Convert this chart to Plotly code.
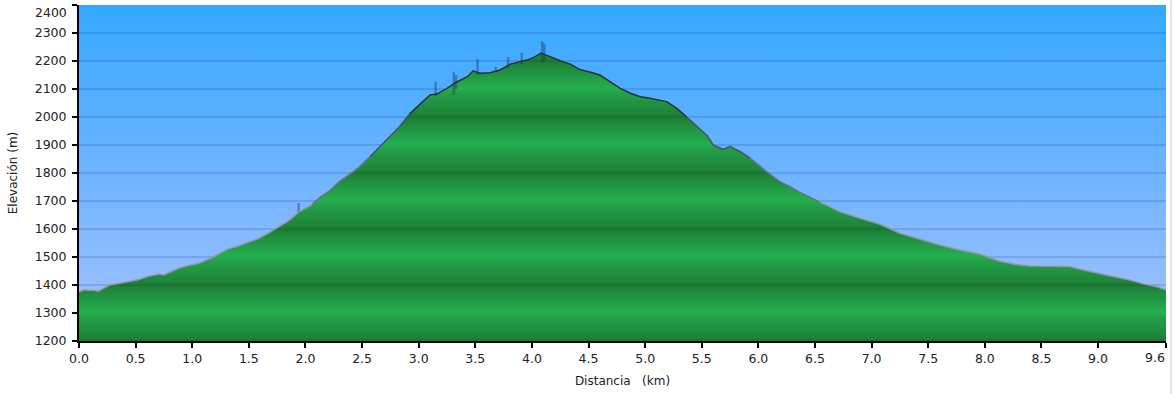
import plotly.graph_objects as go

# ---- data ----
dist_km = [0.00, 0.04, 0.08, 0.13, 0.17, 0.22, 0.27, 0.35, 0.44, 0.53, 0.62, 0.71, 0.75, 0.80,
           0.88, 0.97, 1.06, 1.18, 1.25, 1.32, 1.40, 1.47, 1.59, 1.68, 1.77, 1.86, 1.94, 2.06,
           2.13, 2.21, 2.30, 2.39, 2.48, 2.57, 2.66, 2.75, 2.83, 2.92, 3.01, 3.10, 3.16, 3.25,
           3.34, 3.43, 3.48, 3.54, 3.63, 3.72, 3.81, 3.90, 3.98, 4.04, 4.08, 4.13, 4.16, 4.25,
           4.34, 4.42, 4.51, 4.60, 4.69, 4.78, 4.87, 4.95, 5.04, 5.13, 5.19, 5.28, 5.37, 5.46,
           5.55, 5.60, 5.69, 5.75, 5.84, 5.93, 6.01, 6.10, 6.19, 6.28, 6.37, 6.54, 6.72, 6.90,
           7.07, 7.25, 7.43, 7.60, 7.78, 7.96, 8.13, 8.31, 8.40, 8.58, 8.75, 8.84, 8.97, 9.11,
           9.26, 9.40, 9.52, 9.60]
elev_m = [1375, 1383, 1381, 1381, 1378, 1390, 1400, 1405, 1412, 1420, 1432, 1439, 1436, 1446,
          1460, 1470, 1478, 1499, 1515, 1529, 1538, 1549, 1567, 1587, 1611, 1632, 1660, 1688,
          1714, 1735, 1769, 1795, 1823, 1858, 1894, 1930, 1965, 2011, 2046, 2079, 2082, 2102,
          2126, 2144, 2165, 2156, 2158, 2168, 2189, 2198, 2206, 2218, 2228, 2220, 2215, 2201,
          2189, 2170, 2161, 2150, 2126, 2102, 2085, 2073, 2067, 2061, 2055, 2031, 1999, 1965,
          1932, 1900, 1884, 1894, 1876, 1852, 1825, 1796, 1769, 1751, 1730, 1697, 1662, 1638,
          1618, 1585, 1563, 1543, 1525, 1510, 1485, 1471, 1468, 1468, 1466, 1456, 1444, 1432,
          1420, 1404, 1394, 1382]

# noisy spikes in the raw track
spike_x = [1.94, 3.15, 3.31, 3.33, 3.52, 3.68, 3.79, 3.91, 4.09, 4.11]
spike_top = [1693, 2125, 2161, 2150, 2207, 2179, 2214, 2229, 2271, 2262]
spike_bottom = [1660, 2075, 2079, 2100, 2150, 2160, 2175, 2190, 2193, 2200]

x_tickvals = [0.0, 0.5, 1.0, 1.5, 2.0, 2.5, 3.0, 3.5, 4.0, 4.5, 5.0, 5.5, 6.0, 6.5, 7.0, 7.5,
              8.0, 8.5, 9.0, 9.6]
x_ticktext = ["0.0", "0.5", "1.0", "1.5", "2.0", "2.5", "3.0", "3.5", "4.0", "4.5", "5.0",
              "5.5", "6.0", "6.5", "7.0", "7.5", "8.0", "8.5", "9.0", "9.6"]
y_tickvals = [1200, 1300, 1400, 1500, 1600, 1700, 1800, 1900, 2000, 2100, 2200, 2300, 2400]
y_ticktext = ["1200", "1300", "1400", "1500", "1600", "1700", "1800", "1900", "2000", "2100",
              "2200", "2300", "2400"]

X_MAX = 9.6
Y_MIN, Y_MAX = 1200, 2400

fig = go.Figure()

# sky background gradient
fig.add_trace(go.Scatter(
    x=[0, X_MAX, X_MAX, 0, 0], y=[Y_MIN, Y_MIN, Y_MAX, Y_MAX, Y_MIN],
    mode="none", fill="toself",
    fillgradient=dict(type="vertical", start=Y_MIN, stop=Y_MAX,
                      colorscale=[[0, "rgb(168,194,255)"], [0.5, "rgb(110,180,255)"],
                                  [1, "rgb(52,168,255)"]]),
    hoverinfo="skip", showlegend=False))

# gridlines (drawn over sky, under terrain)
gx, gy = [], []
for v in y_tickvals[1:-1]:
    gx += [0, X_MAX, None]
    gy += [v, v, None]
fig.add_trace(go.Scatter(x=gx, y=gy, mode="lines",
                         line=dict(color="rgba(0,30,80,0.18)", width=1.5),
                         hoverinfo="skip", showlegend=False))

# terrain fill with banded green gradient
line_dark = "rgb(25,112,48)"
mid_dark = "rgb(29,130,57)"
bright = "rgb(35,170,76)"
stops = []
n = (Y_MAX - Y_MIN) // 100
for k in range(n + 1):
    f = k / n
    if k % 2 == 0:
        if f - 0.006 >= 0:
            stops.append([f - 0.006, mid_dark])
        stops.append([f, line_dark])
        if f + 0.006 <= 1:
            stops.append([f + 0.006, mid_dark])
    else:
        stops.append([f - 0.012, "rgb(34,160,72)"])
        stops.append([f, "rgb(37,176,80)"])
        stops.append([f + 0.012, bright])
fig.add_trace(go.Scatter(
    x=dist_km, y=elev_m, mode="none", fill="tozeroy",
    fillgradient=dict(type="vertical", start=Y_MIN, stop=Y_MAX, colorscale=stops),
    hoverinfo="skip", showlegend=False))

# spikes
sx, sy = [], []
for xv, t, b in zip(spike_x, spike_top, spike_bottom):
    sx += [xv, xv, None]
    sy += [b, t, None]
fig.add_trace(go.Scatter(x=sx, y=sy, mode="lines",
                         line=dict(color="rgba(25,50,90,0.4)", width=2.5),
                         hoverinfo="skip", showlegend=False))


# outline, colour darkening with elevation
def outline_color(h):
    if h >= 2000:
        return "#2b2f38"
    if h >= 1850:
        return "#4b505e"
    if h >= 1700:
        return "#6d717e"
    return "#9597a3"


seg_x, seg_y, cur = [dist_km[0]], [elev_m[0]], None
for i in range(1, len(dist_km)):
    c = outline_color((elev_m[i - 1] + elev_m[i]) / 2)
    if cur is not None and c != cur:
        fig.add_trace(go.Scatter(x=seg_x, y=seg_y, mode="lines",
                                 line=dict(color=cur, width=1.5),
                                 hoverinfo="skip", showlegend=False))
        seg_x, seg_y = [dist_km[i - 1]], [elev_m[i - 1]]
    cur = c
    seg_x.append(dist_km[i])
    seg_y.append(elev_m[i])
fig.add_trace(go.Scatter(x=seg_x, y=seg_y, mode="lines",
                         line=dict(color=cur, width=1.5),
                         hoverinfo="skip", showlegend=False))

# edge labels are nudged inward (as in the reference) so they stay fully visible
x_text = x_ticktext[:-1] + [""]
y_text = y_ticktext[:-1] + [""]

font_family = "DejaVu Sans, Verdana, sans-serif"
tick_font = dict(family=font_family, size=12.5, color="#222222")
fig.update_layout(
    width=1174, height=394,
    margin=dict(l=79, r=8, t=5, b=53),
    paper_bgcolor="white", plot_bgcolor="white",
    font=dict(family=font_family, size=12, color="#222222"),
    xaxis=dict(range=[0, X_MAX], tickvals=x_tickvals, ticktext=x_text,
               showgrid=False, zeroline=False, showline=True, linecolor="black",
               linewidth=2, ticks="outside", ticklen=5, tickwidth=2, tickcolor="black",
               title=dict(text="Distancia\u00a0\u00a0\u00a0(km)", standoff=12,
                          font=dict(size=12)),
               tickfont=tick_font, automargin=False, ticklabeloverflow="allow"),
    yaxis=dict(range=[Y_MIN, Y_MAX], tickvals=y_tickvals, ticktext=y_text,
               showgrid=False, zeroline=False, showline=True, linecolor="black",
               linewidth=2, ticks="outside", ticklen=5, tickwidth=2, tickcolor="black",
               title=dict(text="Elevación (m)", standoff=14, font=dict(size=12)),
               tickfont=tick_font, automargin=False, ticklabeloverflow="allow",
               ticklabelstandoff=3),
    annotations=[
        dict(text=y_ticktext[-1], xref="paper", yref="y", x=0, y=y_tickvals[-1],
             xanchor="right", yanchor="top", xshift=-10, yshift=2, showarrow=False,
             font=tick_font),
        dict(text=x_ticktext[-1], xref="x", yref="paper", x=x_tickvals[-1], y=0,
             xanchor="right", yanchor="top", xshift=1, yshift=-7, showarrow=False,
             font=tick_font),
    ],
    shapes=[dict(type="line", xref="paper", yref="paper", x0=1.0046, x1=1.0046,
                 y0=-0.16, y1=1.015, line=dict(color="#d5dbe6", width=1.5))],
)

fig.write_html("out.html", config={"displayModeBar": False},
               post_script="document.body.style.margin='0';document.body.style.overflow='hidden';")
